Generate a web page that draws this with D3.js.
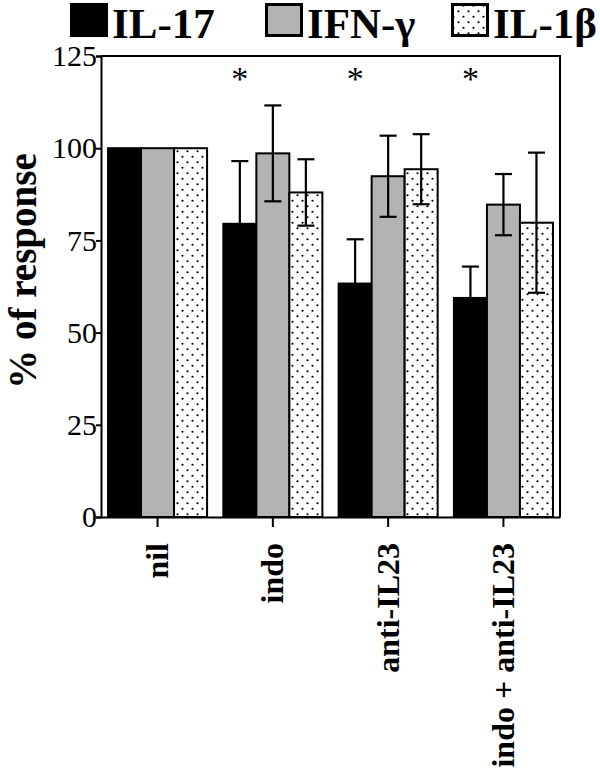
<!DOCTYPE html>
<html>
<head>
<meta charset="utf-8">
<script src="https://cdn.jsdelivr.net/npm/d3@7"></script>
<style>
  body { margin: 0; background: #fff; }
  svg { display: block; }
</style>
</head>
<body>
<svg id="chart" width="600" height="770"></svg>
<script>
// data
const groups = ['nil', 'indo', 'anti-IL23', 'indo + anti-IL23'];
const series = ['IL-17', 'IFN-γ', 'IL-1β'];
const il17 = [100, 79.5, 63.3, 59.4];
const il17Err = [0, 17, 12, 8.5];
const ifng = [100, 98.6, 92.4, 84.7];
const ifngErr = [0, 13, 11, 8.3];
const il1b = [100, 88, 94.3, 79.8];
const il1bErr = [0, 9, 9.5, 19];
const significant = [false, true, true, true];
const yTicks = [0, 25, 50, 75, 100, 125];

const FONT = '"Times New Roman", Times, "Liberation Serif", serif';
const plotLeft = 101, plotRight = 560, plotTop = 56, plotBottom = 517;

const svg = d3.select('#chart');

// dotted fill
const defs = svg.append('defs');
const pat = defs.append('pattern')
    .attr('id', 'dots')
    .attr('patternUnits', 'userSpaceOnUse')
    .attr('width', 10)
    .attr('height', 11);
pat.append('rect').attr('width', 10).attr('height', 11).attr('fill', '#fff');
pat.append('circle').attr('cx', 2.5).attr('cy', 2.75).attr('r', 1.1).attr('fill', '#000');
pat.append('circle').attr('cx', 7.5).attr('cy', 8.25).attr('r', 1.1).attr('fill', '#000');

const fills = { 'IL-17': '#000', 'IFN-γ': '#b3b3b3', 'IL-1β': 'url(#dots)' };

const y = d3.scaleLinear().domain([0, 125]).range([plotBottom, plotTop]);
const x0 = d3.scaleBand().domain(groups).range([plotLeft, plotRight])
    .paddingInner(0.141).paddingOuter(0.061);
const x1 = d3.scaleBand().domain(series).range([0, x0.bandwidth()]);

const rows = [];
groups.forEach((g, i) => {
    rows.push({ group: g, key: 'IL-17', value: il17[i], err: il17Err[i] });
    rows.push({ group: g, key: 'IFN-γ', value: ifng[i], err: ifngErr[i] });
    rows.push({ group: g, key: 'IL-1β', value: il1b[i], err: il1bErr[i] });
});

// bars
svg.append('g').selectAll('rect')
    .data(rows)
    .join('rect')
    .attr('x', d => x0(d.group) + x1(d.key))
    .attr('y', d => y(d.value))
    .attr('width', x1.bandwidth())
    .attr('height', d => y(0) - y(d.value))
    .attr('fill', d => fills[d.key])
    .attr('stroke', '#000')
    .attr('stroke-width', 2);

// error bars
const capW = 8.5;
const eb = svg.append('g').attr('stroke', '#000').attr('stroke-width', 2.2);
rows.filter(d => d.err > 0).forEach(d => {
    const cx = x0(d.group) + x1(d.key) + x1.bandwidth() / 2;
    const y1 = y(d.value + d.err), y2 = y(d.value - d.err);
    eb.append('line').attr('x1', cx).attr('x2', cx).attr('y1', y1).attr('y2', y2);
    eb.append('line').attr('x1', cx - capW).attr('x2', cx + capW).attr('y1', y1).attr('y2', y1);
    eb.append('line').attr('x1', cx - capW).attr('x2', cx + capW).attr('y1', y2).attr('y2', y2);
});

// significance stars over IL-17 bars
svg.append('g').selectAll('text')
    .data(groups.filter((g, i) => significant[i]))
    .join('text')
    .attr('x', g => x0(g) + x1('IL-17') + x1.bandwidth() / 2)
    .attr('y', 90)
    .attr('text-anchor', 'middle')
    .style('font-family', FONT)
    .style('font-size', '34px')
    .text('*');

// y axis
const yAxis = svg.append('g')
    .attr('transform', `translate(${plotLeft},0)`)
    .call(d3.axisLeft(y).tickValues(yTicks).tickSize(5).tickPadding(-1));
yAxis.select('.domain').attr('stroke-width', 2);
yAxis.selectAll('.tick line').attr('stroke-width', 2);
yAxis.selectAll('text')
    .style('font-family', FONT)
    .style('font-size', '30px')
    .attr('fill', '#000');

// x axis
const xAxis = svg.append('g')
    .attr('transform', `translate(0,${plotBottom})`)
    .call(d3.axisBottom(x0).tickSize(10).tickSizeOuter(0).tickFormat(''));
xAxis.select('.domain').attr('stroke-width', 2);
xAxis.selectAll('.tick line').attr('stroke-width', 2);

svg.append('g').selectAll('text')
    .data(groups)
    .join('text')
    .attr('transform', g => `translate(${x0(g) + x0.bandwidth() / 2},543) rotate(-90)`)
    .attr('dy', '0.33em')
    .attr('text-anchor', 'end')
    .style('font-family', FONT)
    .style('font-size', '32px')
    .style('font-weight', 'bold')
    .text(g => g);

// frame top / right
svg.append('path')
    .attr('d', `M${plotLeft},${plotTop}H${plotRight}V${plotBottom}`)
    .attr('fill', 'none')
    .attr('stroke', '#000')
    .attr('stroke-width', 2);

// y title
svg.append('text')
    .attr('transform', 'translate(36,271) rotate(-90)')
    .attr('text-anchor', 'middle')
    .style('font-family', FONT)
    .style('font-size', '39px')
    .style('font-weight', 'bold')
    .text('% of response');

// legend
const legendX = [70, 265, 451];
const lg = svg.append('g').selectAll('g')
    .data(series)
    .join('g')
    .attr('transform', (d, i) => `translate(${legendX[i]},3)`);
lg.append('rect')
    .attr('x', d => d === 'IL-17' ? 0 : 1.5)
    .attr('y', d => d === 'IL-17' ? 0 : 1.5)
    .attr('width', d => d === 'IL-17' ? 38 : 35)
    .attr('height', d => d === 'IL-17' ? 34 : 31)
    .attr('fill', d => fills[d])
    .attr('stroke', d => d === 'IL-17' ? 'none' : '#000')
    .attr('stroke-width', 3);
lg.append('text')
    .attr('x', 42)
    .attr('y', 35)
    .style('font-family', FONT)
    .style('font-size', '43px')
    .style('font-weight', 'bold')
    .text(d => d);
</script>
</body>
</html>
